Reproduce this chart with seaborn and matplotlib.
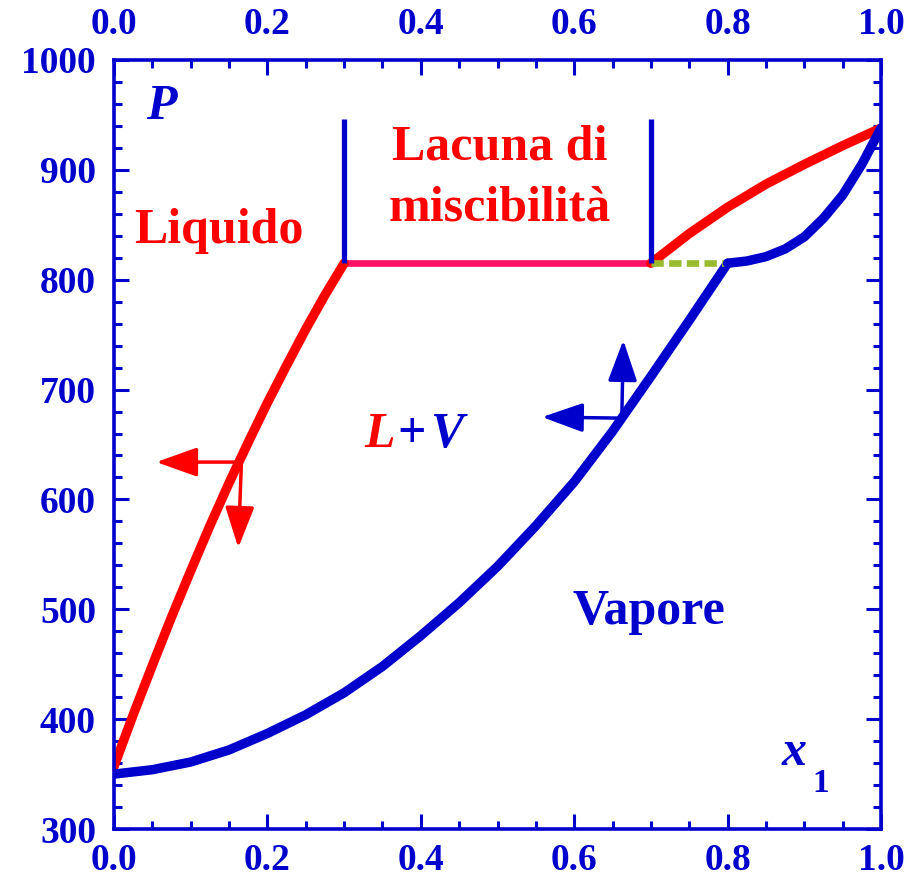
import matplotlib
matplotlib.use("Agg")
import matplotlib.pyplot as plt
import seaborn as sns
import pandas as pd
from matplotlib.ticker import MultipleLocator
from matplotlib.transforms import ScaledTranslation

# Liquid (bubble) branch below the miscibility gap
liq_x = [0.0, 0.025, 0.05, 0.075, 0.10, 0.125, 0.15, 0.175, 0.20, 0.225, 0.25, 0.275, 0.30]
liq_y = [357, 404, 449, 493, 535, 576, 615, 652, 688, 722, 755, 786, 815]

# Liquid branch above the gap
liq2_x = [0.70, 0.75, 0.80, 0.85, 0.90, 0.95, 1.00]
liq2_y = [815, 842, 866, 887, 905, 922, 938]

# Vapour (dew) branch, left part
vap_x = [0.0, 0.05, 0.10, 0.15, 0.20, 0.25, 0.30, 0.35, 0.40, 0.45, 0.50,
         0.55, 0.60, 0.65, 0.70, 0.75, 0.80]
vap_y = [350, 354, 361, 372, 387, 404, 424, 448, 476, 506, 539,
         576, 616, 662, 712, 763, 815]

# Vapour branch, right part
vap2_x = [0.80, 0.825, 0.85, 0.875, 0.90, 0.925, 0.95, 0.975, 1.00]
vap2_y = [815, 817, 821, 828, 839, 856, 877, 905, 938]

# Three-phase pressure and the gap limits
p_three = 815
gap_x = [0.30, 0.70]
gap_top = 946
vap_three_x = 0.80

BLUE = "#0000CC"
RED = "#FF0000"
PINK = "#FF1166"
GREEN = "#9BBB2F"

sns.set_theme(style="ticks")
plt.rcParams["font.family"] = ["Liberation Serif", "DejaVu Serif"]
plt.rcParams["font.weight"] = "bold"

fig = plt.figure(figsize=(9.18, 8.81), dpi=100)
ax = fig.add_axes([0.1242, 0.0590, 0.8355, 0.8729])

liq = pd.DataFrame({"x": liq_x, "P": liq_y})
liq2 = pd.DataFrame({"x": liq2_x, "P": liq2_y})
vap = pd.DataFrame({"x": vap_x, "P": vap_y})
vap2 = pd.DataFrame({"x": vap2_x, "P": vap2_y})

LW = 6.8
common = dict(ax=ax, sort=False, estimator=None)

# three-phase line inside the gap
sns.lineplot(x=gap_x, y=[p_three, p_three], color=PINK, lw=4.8,
             solid_capstyle="butt", **common)
sns.lineplot(data=liq2, x="x", y="P", color=RED, lw=LW, **common)
sns.lineplot(data=liq, x="x", y="P", color=RED, lw=LW, **common)
sns.lineplot(data=vap, x="x", y="P", color=BLUE, lw=LW, **common)
# metastable stretch between gap edge and vapour point
sns.lineplot(x=[gap_x[1], vap_three_x], y=[p_three, p_three], color=GREEN,
             lw=4.8, solid_capstyle="butt", **common)
ax.lines[-1].set_dashes((1.85, 0.8))
ax.lines[-1].set_dash_capstyle("butt")
sns.lineplot(data=vap2, x="x", y="P", color=BLUE, lw=LW, **common)

# vertical bounds of the miscibility gap
for gx in gap_x:
    sns.lineplot(x=[gx, gx], y=[p_three, gap_top], color=BLUE, lw=3.8,
                 solid_capstyle="butt", **common)

# direction arrows
def arrow(x0, y0, x1, y1, color):
    ax.annotate("", xy=(x1, y1), xytext=(x0, y0),
                arrowprops=dict(arrowstyle="-|>,head_length=0.9,head_width=0.32",
                                mutation_scale=28, color=color, lw=2.5,
                                shrinkA=0, shrinkB=0))

arrow(0.163, 634, 0.055, 634, RED)
arrow(0.166, 632, 0.162, 556, RED)
arrow(0.662, 674, 0.558, 675, BLUE)
arrow(0.662, 672, 0.664, 745, BLUE)

ax.set_xlim(0, 1)
ax.set_ylim(300, 1000)
ax.set_xlabel("")
ax.set_ylabel("")
ax.xaxis.set_major_locator(MultipleLocator(0.2))
ax.xaxis.set_minor_locator(MultipleLocator(0.05))
ax.yaxis.set_major_locator(MultipleLocator(100))
ax.yaxis.set_minor_locator(MultipleLocator(20))
ax.tick_params(which="both", direction="in", top=True, bottom=True, left=True,
               right=True, labeltop=True, labelbottom=True, labelleft=True,
               labelright=False, color=BLUE, labelcolor=BLUE, width=2.2)
ax.tick_params(which="major", length=10.8, labelsize=27)
ax.tick_params(which="minor", length=5.8)
ax.tick_params(axis="x", pad=10)
ax.tick_params(axis="y", pad=13)
for s in ax.spines.values():
    s.set_color(BLUE)
    s.set_linewidth(2.6)
    s.set_visible(True)

fs = 36
ax.text(0.061, 957, "P", color=BLUE, fontsize=fs, style="italic",
        fontweight="bold", ha="center", va="center")
ax.text(0.136, 833, "Liquido", color=RED, fontsize=fs, fontweight="bold",
        ha="center", va="baseline")
ax.text(0.503, 909, "Lacuna di", color=RED, fontsize=fs, fontweight="bold",
        ha="center", va="baseline")
ax.text(0.503, 854, "miscibilità", color=RED, fontsize=fs, fontweight="bold",
        ha="center", va="baseline")
ax.text(0.327, 648, "L", color=RED, fontsize=fs, style="italic",
        fontweight="bold", ha="left", va="baseline")
ax.text(0.369, 648, "+", color=BLUE, fontsize=fs, fontweight="bold",
        ha="left", va="baseline")
ax.text(0.412, 648, "V", color=BLUE, fontsize=fs, style="italic",
        fontweight="bold", ha="left", va="baseline")
ax.text(0.6975, 487, "Vapore", color=BLUE, fontsize=fs, fontweight="bold",
        ha="center", va="baseline")
ax.text(0.871, 358, "x", color=BLUE, fontsize=fs, style="italic",
        fontweight="bold", ha="left", va="baseline")
ax.text(0.910, 334, "1", color=BLUE, fontsize=24, fontweight="bold",
        ha="left", va="baseline")

# lift the top composition labels a little further from the frame
fig.canvas.draw()
lift = ScaledTranslation(0, 3 / 72, fig.dpi_scale_trans)
for t in ax.xaxis.get_major_ticks():
    t.label2.set_transform(t.label2.get_transform() + lift)

fig.savefig("out.png", dpi=100)
